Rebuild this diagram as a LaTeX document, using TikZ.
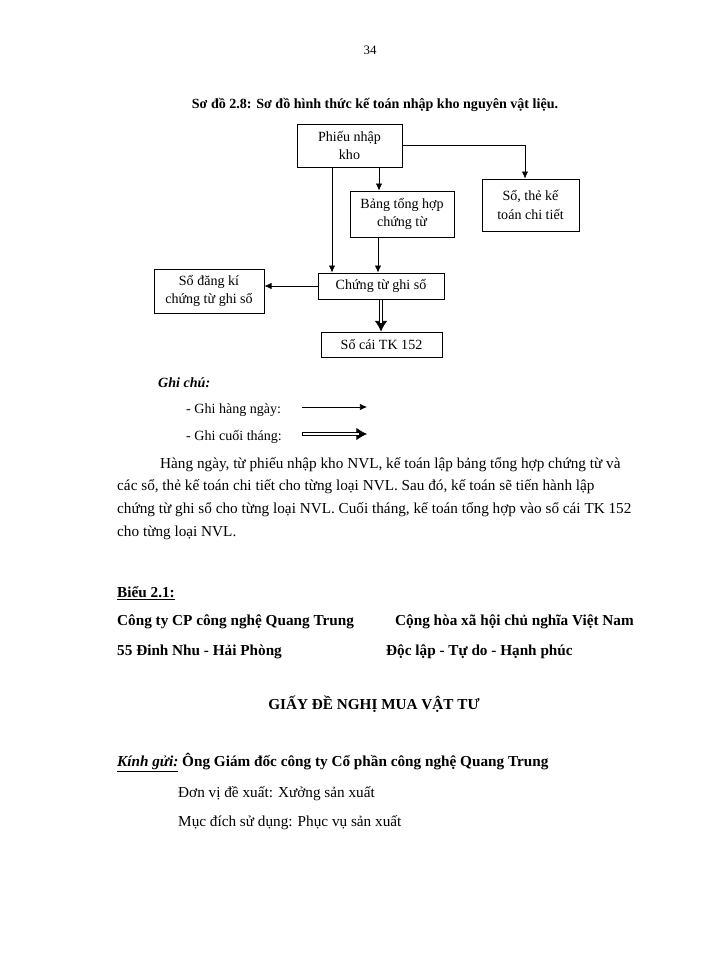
\documentclass[tikz,border=0pt]{standalone}
\usepackage{fontspec}
\setmainfont{Liberation Serif}
\usetikzlibrary{arrows.meta, positioning}

\newlength{\pxu}
\setlength{\pxu}{0.3mm}
\newcommand{\diagfont}{\fontsize{12}{15.5}\selectfont}
\newcommand{\bodyfont}{\fontsize{13}{15}\selectfont}

\tikzstyle{box} = [rectangle, draw, line width=0.8pt, align=center, font=\diagfont, inner sep=0pt]
\tikzstyle{line} = [draw, line width=0.6pt, -{Latex[length=6pt, width=5.5pt]}]
\tikzstyle{dline} = [draw, line width=3pt, shorten <=0pt, shorten >=8pt,
    preaction={draw, line width=0.6pt, shorten <=0pt, shorten >=0pt, -{Latex[length=9pt, width=10.5pt]}},
    postaction={draw=white, line width=1.8pt, shorten <=0.5pt, shorten >=7pt}]
\tikzstyle{txt} = [anchor=base west, inner sep=0pt, font=\bodyfont]
\tikzstyle{note} = [anchor=base west, inner sep=0pt, font=\diagfont]

\begin{document}
\begin{tikzpicture}[x=0.3mm, y=-0.3mm]
    \useasboundingbox (0,0) rectangle (700,960);

    % Title
    \node [inner sep=0pt, font=\fontsize{11}{13}\selectfont] (page) at (370,50) {34};
    \node [anchor=base, inner sep=0pt, font=\diagfont\bfseries] (title) at (375,109)
        {Sơ đồ 2.8: Sơ đồ hình thức kế toán nhập kho nguyên vật liệu.};

    % Nodes
    \node [box, minimum width=105\pxu, minimum height=43\pxu] (phieu) at (349.5,145.5) {Phiếu nhập\\kho};
    \node [box, minimum width=97\pxu, minimum height=52\pxu] (sothe) at (530.5,205) {Sổ, thẻ kế\\toán chi tiết};
    \node [box, minimum width=104\pxu, minimum height=46\pxu] (bang) at (402,214) {Bảng tổng hợp\\chứng từ};
    \node [box, minimum width=126\pxu, minimum height=26\pxu] (chung) at (381,286) {Chứng từ ghi sổ};
    \node [box, minimum width=110\pxu, minimum height=44\pxu] (dangki) at (209,291) {Sổ đăng kí\\chứng từ ghi sổ};
    \node [box, minimum width=121\pxu, minimum height=25\pxu] (socai) at (381.5,344.5) {Sổ cái TK 152};

    % Lines
    \path [line] (phieu.east) -| ([xshift=-5.5\pxu]sothe.north);
    \path [line] ([xshift=29.5\pxu]phieu.south) -- ([xshift=29.5\pxu]phieu.south |- bang.north);
    \path [line] ([xshift=-17.5\pxu]phieu.south) -- ([xshift=-17.5\pxu]phieu.south |- chung.north);
    \path [line] ([xshift=-24\pxu]bang.south) -- ([xshift=-24\pxu]bang.south |- chung.north);
    \path [line] (chung.west) -- (chung.west -| dangki.east);
    \path [dline] (chung.south) -- (chung.south |- socai.north);

    % Legend
    \node [anchor=base west, inner sep=0pt, font=\diagfont\bfseries\itshape] (ghichu) at (158,387) {Ghi chú:};
    \node [note] (daily) at (186,413) {- Ghi hàng ngày:};
    \node [note] (monthly) at (186,440) {- Ghi cuối tháng:};
    \coordinate (d1) at (302,407);
    \coordinate (d2) at (367,407);
    \coordinate (m1) at (302,434);
    \coordinate (m2) at (367,434);
    \path [line] (d1) -- (d2);
    \path [dline] (m1) -- (m2);

    % Text
    \node [txt] (p1) at (160,468) {Hàng ngày, từ phiếu nhập kho NVL, kế toán lập bảng tổng hợp chứng từ và};
    \node [txt] (p2) at (117,490) {các sổ, thẻ kế toán chi tiết cho từng loại NVL. Sau đó, kế toán sẽ tiến hành lập};
    \node [txt] (p3) at (117,513) {chứng từ ghi sổ cho từng loại NVL. Cuối tháng, kế toán tổng hợp vào sổ cái TK 152};
    \node [txt] (p4) at (117,536) {cho từng loại NVL.};

    \node [txt, font=\bodyfont\bfseries] (bieu) at (117,597) {\underline{Biểu 2.1:}};
    \node [txt, font=\bodyfont\bfseries] (cty) at (117,625) {Công ty CP công nghệ Quang Trung};
    \node [txt, font=\bodyfont\bfseries] (chxh) at (395,625) {Cộng hòa xã hội chủ nghĩa Việt Nam};
    \node [txt, font=\bodyfont\bfseries] (addr) at (117,655) {55 Đinh Nhu - Hải Phòng};
    \node [txt, font=\bodyfont\bfseries] (motto) at (386,655) {Độc lập - Tự do - Hạnh phúc};

    \node [anchor=base, inner sep=0pt, font=\bodyfont\bfseries] (giay) at (374,709) {GIẤY ĐỀ NGHỊ MUA VẬT TƯ};
    \node [txt, font=\bodyfont\bfseries] (kinh) at (117,766) {\underline{\textit{Kính gửi:}} Ông Giám đốc công ty Cổ phần công nghệ Quang Trung};
    \node [txt] (donvi) at (178,797) {Đơn vị đề xuất: Xưởng sản xuất};
    \node [txt] (mucdich) at (178,826) {Mục đích sử dụng: Phục vụ sản xuất};
\end{tikzpicture}
\end{document}
